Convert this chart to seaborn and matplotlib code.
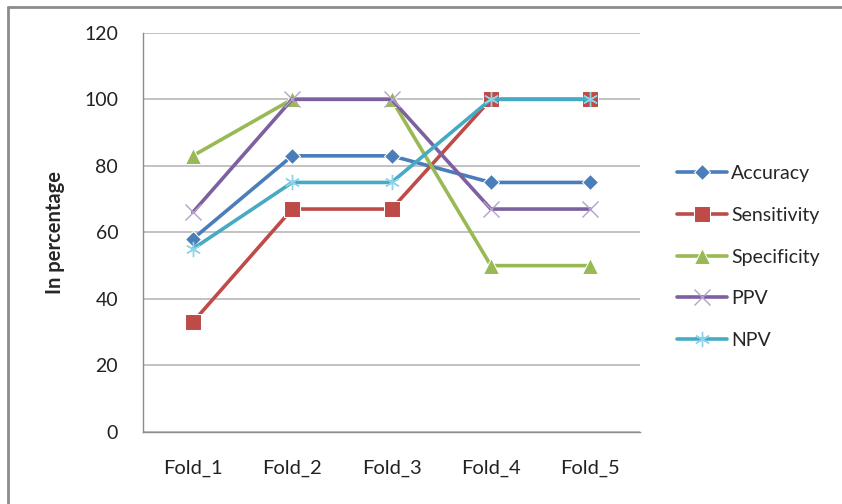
import numpy as np; import pandas as pd
import matplotlib
matplotlib.use("Agg")
import matplotlib.pyplot as plt
import seaborn as sns
from matplotlib.lines import Line2D

# veriler
folds = ["Fold_1", "Fold_2", "Fold_3", "Fold_4", "Fold_5"]
accuracy = [58, 83, 83, 75, 75]
sensitivity = [33, 67, 67, 100, 100]
specificity = [83, 100, 100, 50, 50]
ppv = [66, 100, 100, 67, 67]
npv = [55, 75, 75, 100, 100]
metrics = ["Accuracy", "Sensitivity", "Specificity", "PPV", "NPV"]

df = pd.DataFrame({"Fold": folds * 5,
                   "Metric": np.repeat(metrics, 5),
                   "Value": accuracy + sensitivity + specificity + ppv + npv})

sns.set_style("white")
plt.rcParams["font.family"] = ["Lato", "DejaVu Sans"]

renkler = {"Accuracy": "#4A7EBB", "Sensitivity": "#BE4B48", "Specificity": "#98B954",
           "PPV": "#7D60A0", "NPV": "#46AAC5"}
isaretler = {"Accuracy": dict(marker="D", markersize=8),
             "Sensitivity": dict(marker="s", markersize=11),
             "Specificity": dict(marker="^", markersize=11),
             "PPV": dict(marker="x", markersize=11, markeredgewidth=1.0, markeredgecolor="#B4A2CC"),
             "NPV": dict(marker=(6, 2, 0), markersize=11, markeredgewidth=1.0, markeredgecolor="#8FD3E6")}

fig = plt.figure(figsize=(8.42, 5.04), dpi=100)
ax = fig.add_axes([0.170, 0.143, 0.590, 0.792])

for m in metrics:
    sns.lineplot(data=df[df["Metric"] == m], x="Fold", y="Value", ax=ax, color=renkler[m],
                 linewidth=2.6, label=m, **isaretler[m])

ax.set_xlim(-0.5, 4.5)
ax.set_ylim(0, 120)
ax.set_yticks(range(0, 121, 20))
ax.yaxis.grid(True, color="#BDBDBD", linewidth=1.3)
ax.set_axisbelow(True)
ax.tick_params(axis="x", labelsize=14.5, colors="#222222", length=0, pad=20)
ax.tick_params(axis="y", labelsize=14, colors="#222222", length=0, pad=18)
for s in ["top", "right"]:
    ax.spines[s].set_visible(False)
for s in ["left", "bottom"]:
    ax.spines[s].set_color("#8C8C8C")
    ax.spines[s].set_linewidth(1.0)
ax.set_xlabel("")
ax.set_ylabel("In percentage", fontsize=14.5, fontweight="bold", labelpad=14)

ax.legend(loc="center left", bbox_to_anchor=(0.783, 0.490), bbox_transform=fig.transFigure,
          frameon=False, fontsize=14, handlelength=2.6, handletextpad=0.2, labelspacing=1.27)

# dis cerceve (sol ve ust)
fig.add_artist(Line2D([0.009, 0.009], [0.0, 0.986], transform=fig.transFigure, color="#8C8C8C", linewidth=2))
fig.add_artist(Line2D([0.009, 1.0], [0.986, 0.986], transform=fig.transFigure, color="#8C8C8C", linewidth=2))

plt.savefig("out.png", dpi=100)
